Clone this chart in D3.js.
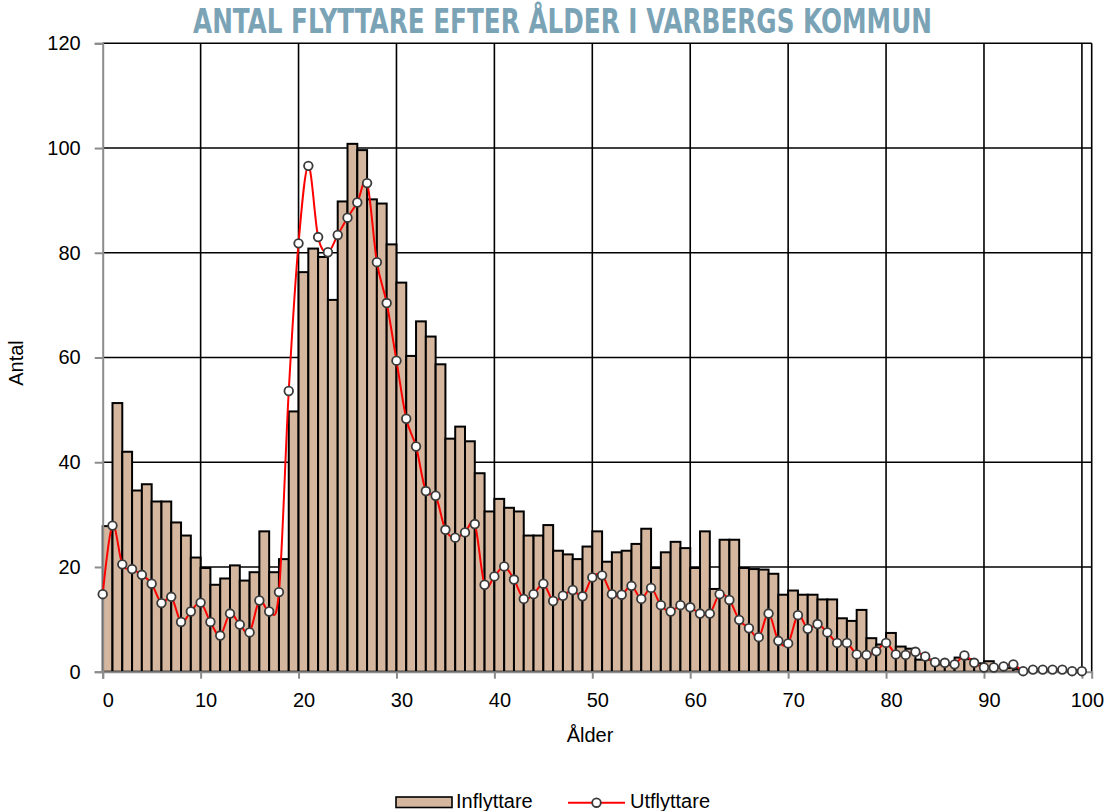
<!DOCTYPE html>
<html>
<head>
<meta charset="utf-8">
<script src="https://d3js.org/d3.v7.min.js"></script>
<style>
  body { margin: 0; background: #fff; }
  text { font-family: "Liberation Sans", Arial, sans-serif; }
</style>
</head>
<body>
<script>
// age 0..100
var ages = d3.range(0, 101);

var inflyttare = [27.8, 51.3, 42.0, 34.6, 35.8, 32.5, 32.5, 28.5, 26.0, 21.8,
  19.8, 16.6, 17.8, 20.3, 17.4, 19.0, 26.8, 19.0, 21.5, 49.7,
  76.3, 80.8, 79.2, 71.0, 89.8, 100.8, 99.6, 90.2, 89.4, 81.6,
  74.3, 60.3, 66.9, 64.0, 58.7, 44.5, 46.8, 44.0, 37.9, 30.6,
  33.0, 31.3, 30.6, 26.0, 26.0, 28.0, 23.1, 22.4, 21.5, 23.9,
  26.8, 21.0, 22.8, 23.1, 24.4, 27.3, 19.8, 22.8, 24.8, 23.6,
  19.8, 26.8, 15.8, 25.2, 25.2, 19.8, 19.6, 19.5, 18.7, 14.7,
  15.5, 14.7, 14.7, 13.8, 13.8, 10.2, 9.7, 11.8, 6.4, 5.2,
  7.4, 4.8, 4.4, 2.3, 2.3, 1.4, 1.3, 2.7, 2.4, 1.6,
  2.0, 0.8, 0.7, 0.5, 0.3, 0.2, 0.2, 0.1, 0.1, 0, 0];

var utflyttare = [14.8, 27.9, 20.5, 19.6, 18.5, 16.8, 13.1, 14.3, 9.5, 11.5,
  13.2, 9.5, 6.9, 11.1, 9.0, 7.5, 13.6, 11.5, 15.2, 53.6,
  81.8, 96.6, 83.0, 80.1, 83.4, 86.7, 89.6, 93.3, 78.2, 70.4,
  59.4, 48.3, 43.0, 34.5, 33.6, 27.1, 25.6, 26.6, 28.2, 16.6,
  18.2, 20.1, 17.6, 13.9, 14.8, 16.8, 13.5, 14.5, 15.6, 14.4,
  18.0, 18.4, 14.8, 14.7, 16.4, 13.9, 16.0, 12.7, 11.5, 12.7,
  12.3, 11.1, 11.1, 14.8, 13.7, 9.9, 8.3, 6.6, 11.1, 5.9,
  5.4, 10.8, 8.2, 9.1, 7.5, 5.5, 5.5, 3.3, 3.2, 3.9,
  5.5, 3.3, 3.2, 3.8, 2.9, 1.8, 1.7, 1.4, 3.1, 1.7,
  0.8, 0.8, 1.0, 1.4, 0.1, 0.4, 0.4, 0.4, 0.4, 0.1, 0.1];

var xTicks = d3.range(0, 101, 10);
var yTicks = d3.range(0, 121, 20);

var title = "ANTAL FLYTTARE EFTER ÅLDER I VARBERGS KOMMUN";
var seriesNames = ["Inflyttare", "Utflyttare"];

var width = 1105, height = 811;
var plotLeft = 102.7, plotRight = 1091.7, plotTop = 43.3, plotBottom = 671.7;

var svg = d3.select("body")
  .append("svg")
  .attr("width", width)
  .attr("height", height);

var x = d3.scaleLinear().domain([0, 101]).range([plotLeft, plotRight]);
var y = d3.scaleLinear().domain([0, 120]).range([plotBottom, plotTop]);

// gridlines behind the bars
svg.append("g")
  .selectAll("line")
  .data(yTicks.filter(function(d){ return d > 0; }))
  .enter()
  .append("line")
  .attr("x1", plotLeft).attr("x2", plotRight)
  .attr("y1", function(d){ return y(d); })
  .attr("y2", function(d){ return y(d); })
  .attr("stroke", "#000")
  .attr("stroke-width", 1.6);

svg.append("g")
  .selectAll("line")
  .data(xTicks.filter(function(d){ return d > 0; }).concat([101]))
  .enter()
  .append("line")
  .attr("x1", function(d){ return x(d); })
  .attr("x2", function(d){ return x(d); })
  .attr("y1", plotTop).attr("y2", plotBottom)
  .attr("stroke", "#000")
  .attr("stroke-width", 1.6);

// bars
svg.append("g")
  .selectAll("rect")
  .data(ages)
  .enter()
  .append("rect")
  .attr("x", function(d){ return x(d); })
  .attr("width", function(d){ return x(d + 1) - x(d); })
  .attr("y", function(d){ return y(inflyttare[d]); })
  .attr("height", function(d){ return y(0) - y(inflyttare[d]); })
  .attr("fill", "#d4b79e")
  .attr("stroke", "#000")
  .attr("stroke-width", 2);

// axes
var xAxis = d3.axisBottom(x)
  .tickValues(xTicks)
  .tickSize(7)
  .tickFormat(d3.format("d"));

var gx = svg.append("g")
  .attr("transform", "translate(0," + plotBottom + ")")
  .call(xAxis);
gx.select(".domain").attr("stroke", "#8c8c8c").attr("stroke-width", 2);
gx.selectAll(".tick line").attr("stroke", "#8c8c8c").attr("stroke-width", 2);
gx.selectAll(".tick text")
  .attr("x", 5)
  .attr("dy", null)
  .attr("y", 35)
  .attr("fill", "#000")
  .style("font-size", "20px");

var yAxis = d3.axisLeft(y)
  .tickValues(yTicks)
  .tickSize(8)
  .tickPadding(14);

var gy = svg.append("g")
  .attr("transform", "translate(" + plotLeft + ",0)")
  .call(yAxis);
gy.select(".domain").attr("stroke", "#8c8c8c").attr("stroke-width", 2);
gy.selectAll(".tick line").attr("stroke", "#8c8c8c").attr("stroke-width", 2);
gy.selectAll(".tick text")
  .attr("fill", "#000")
  .style("font-size", "20px");

// smoothed line with markers
var line = d3.line()
  .x(function(d){ return x(d); })
  .y(function(d){ return y(utflyttare[d]); })
  .curve(d3.curveCatmullRom.alpha(0));

svg.append("path")
  .datum(ages)
  .attr("d", line)
  .attr("fill", "none")
  .attr("stroke", "#ff0000")
  .attr("stroke-width", 2);

svg.append("g")
  .selectAll("circle")
  .data(ages)
  .enter()
  .append("circle")
  .attr("cx", function(d){ return x(d); })
  .attr("cy", function(d){ return y(utflyttare[d]); })
  .attr("r", 4.3)
  .attr("fill", "#fff")
  .attr("stroke", "#3a3a3a")
  .attr("stroke-width", 1.8);

// titles
svg.append("text")
  .attr("x", 562.5)
  .attr("y", 33)
  .attr("text-anchor", "middle")
  .attr("textLength", 739)
  .attr("lengthAdjust", "spacingAndGlyphs")
  .style("font-family", "'Liberation Sans Narrow', 'DejaVu Sans Condensed', sans-serif")
  .style("font-weight", "bold")
  .style("font-size", "33px")
  .attr("fill", "#7ba3b6")
  .text(title);

svg.append("text")
  .attr("x", 590)
  .attr("y", 742)
  .attr("text-anchor", "middle")
  .style("font-size", "20px")
  .text("Ålder");

svg.append("text")
  .attr("transform", "translate(23,363) rotate(-90)")
  .attr("text-anchor", "middle")
  .style("font-size", "20px")
  .text("Antal");

// legend
var legend = svg.append("g");
legend.append("rect")
  .attr("x", 396).attr("y", 797)
  .attr("width", 56).attr("height", 10.5)
  .attr("fill", "#d4b79e")
  .attr("stroke", "#000")
  .attr("stroke-width", 1.6);
legend.append("text")
  .attr("x", 456).attr("y", 808)
  .style("font-size", "20px")
  .text(seriesNames[0]);
legend.append("line")
  .attr("x1", 568).attr("x2", 625)
  .attr("y1", 802.7).attr("y2", 802.7)
  .attr("stroke", "#ff0000")
  .attr("stroke-width", 2);
legend.append("circle")
  .attr("cx", 596.5).attr("cy", 802.7)
  .attr("r", 4.3)
  .attr("fill", "#fff")
  .attr("stroke", "#3a3a3a")
  .attr("stroke-width", 1.8);
legend.append("text")
  .attr("x", 630).attr("y", 808)
  .style("font-size", "20px")
  .text(seriesNames[1]);
</script>
</body>
</html>
